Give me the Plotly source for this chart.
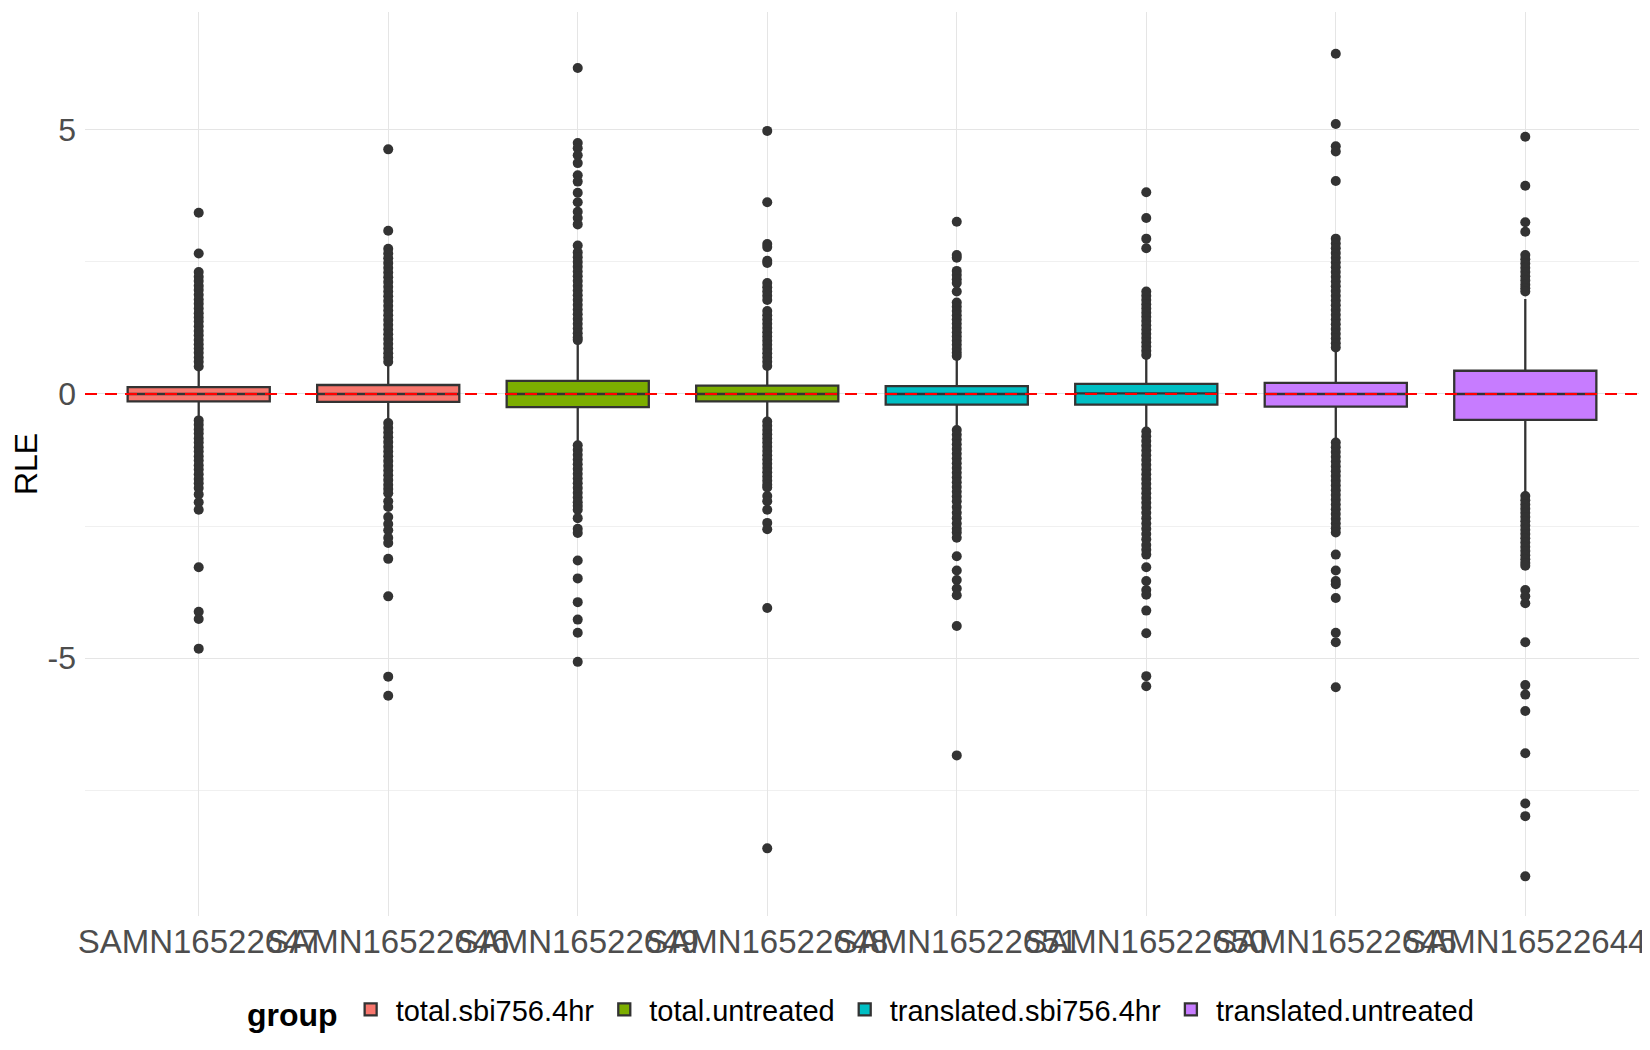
import plotly.graph_objects as go

# RLE boxplot per sample, coloured by group

samples = ["SAMN16522647", "SAMN16522646", "SAMN16522649", "SAMN16522648",
           "SAMN16522651", "SAMN16522650", "SAMN16522645", "SAMN16522644"]
sample_group = ["total.sbi756.4hr", "total.sbi756.4hr", "total.untreated", "total.untreated",
                "translated.sbi756.4hr", "translated.sbi756.4hr", "translated.untreated", "translated.untreated"]
group_names = ["total.sbi756.4hr", "total.untreated", "translated.sbi756.4hr", "translated.untreated"]
group_colors = ["#F8766D", "#7CAE00", "#00BFC4", "#C77CFF"]

y_ticks = [-5, 0, 5]
y_ticklabels = ["-5", "0", "5"]

q1 = [-0.14, -0.15, -0.25, -0.14, -0.20, -0.20, -0.24, -0.49]
median = [0.0, 0.0, 0.0, 0.0, 0.0, 0.01, 0.0, 0.0]
q3 = [0.13, 0.17, 0.25, 0.16, 0.15, 0.19, 0.21, 0.44]
lower_whisker = [-0.48, -0.53, -0.95, -0.50, -0.66, -0.70, -0.90, -1.86]
upper_whisker = [0.50, 0.59, 0.97, 0.51, 0.70, 0.72, 0.86, 1.80]

out_647 = [3.43, 2.66, 2.31, 2.22, 2.14, 2.05, 1.97, 1.88, 1.79, 1.71, 1.62, 1.53, 1.45, 1.37,
           1.28, 1.19, 1.11, 1.02, 0.94, 0.86, 0.78, 0.69, 0.61, 0.52,
           -0.50, -0.58, -0.67, -0.75, -0.84, -0.92, -1.01, -1.09, -1.18, -1.26, -1.35, -1.43,
           -1.52, -1.61, -1.69, -1.78, -1.90, -2.05, -2.19, -3.28, -4.12, -4.26, -4.82]
out_646 = [4.63, 3.09, 2.75, 2.66, 2.57, 2.48, 2.39, 2.30, 2.21, 2.12, 2.03, 1.94, 1.85, 1.76,
           1.67, 1.58, 1.49, 1.40, 1.31, 1.22, 1.13, 1.04, 0.95, 0.86, 0.77, 0.69, 0.61,
           -0.55, -0.64, -0.73, -0.82, -0.91, -1.00, -1.09, -1.18, -1.27, -1.36, -1.45, -1.54,
           -1.63, -1.72, -1.80, -1.88, -2.03, -2.14, -2.33, -2.46, -2.58, -2.72, -2.82, -3.12,
           -3.83, -5.35, -5.71]
out_649 = [6.17, 4.75, 4.65, 4.52, 4.37, 4.14, 4.02, 3.81, 3.63, 3.45, 3.33, 3.21, 2.81,
           2.68, 2.59, 2.50, 2.41, 2.32, 2.23, 2.14, 2.05, 1.96, 1.87, 1.78, 1.69, 1.60,
           1.51, 1.42, 1.33, 1.24, 1.15, 1.07, 1.02,
           -0.97, -1.06, -1.15, -1.24, -1.33, -1.42, -1.51, -1.60, -1.69, -1.78, -1.87,
           -1.96, -2.05, -2.12, -2.19, -2.35, -2.55, -2.63, -3.15, -3.49, -3.94, -4.27,
           -4.52, -5.07]
out_648 = [4.98, 3.63, 2.84, 2.78, 2.52, 2.48, 2.10, 2.02, 1.94, 1.86, 1.78, 1.57, 1.49,
           1.41, 1.33, 1.25, 1.17, 1.09, 1.01, 0.93, 0.85, 0.77, 0.69, 0.61, 0.53,
           -0.52, -0.60, -0.68, -0.76, -0.84, -0.92, -1.00, -1.08, -1.16, -1.24, -1.32,
           -1.40, -1.48, -1.56, -1.64, -1.72, -1.77, -1.93, -2.03, -2.19, -2.44, -2.56,
           -4.05, -8.60]
out_651 = [3.26, 2.63, 2.58, 2.33, 2.25, 2.17, 2.10, 1.94, 1.73, 1.65, 1.57, 1.49, 1.41,
           1.33, 1.25, 1.17, 1.09, 1.01, 0.93, 0.85, 0.78, 0.72,
           -0.68, -0.77, -0.86, -0.95, -1.04, -1.13, -1.22, -1.31, -1.40, -1.49, -1.58,
           -1.67, -1.76, -1.85, -1.94, -2.03, -2.14, -2.25, -2.35, -2.45, -2.55, -2.62,
           -2.72, -3.07, -3.34, -3.52, -3.68, -3.81, -4.39, -6.84]
out_650 = [3.82, 3.33, 2.94, 2.76, 1.94, 1.86, 1.78, 1.70, 1.62, 1.54, 1.46, 1.38, 1.30,
           1.22, 1.14, 1.06, 0.98, 0.90, 0.82, 0.74,
           -0.71, -0.80, -0.89, -0.98, -1.07, -1.16, -1.25, -1.34, -1.43, -1.52, -1.61,
           -1.70, -1.79, -1.88, -1.97, -2.06, -2.15, -2.25, -2.35, -2.45, -2.55, -2.65,
           -2.75, -2.86, -2.95, -3.04, -3.28, -3.54, -3.71, -3.80, -4.10, -4.53, -5.34, -5.53]
out_645 = [6.44, 5.11, 4.69, 4.59, 4.03, 2.94, 2.85, 2.76, 2.67, 2.58, 2.49, 2.40, 2.31,
           2.22, 2.13, 2.04, 1.95, 1.86, 1.77, 1.68, 1.59, 1.50, 1.41, 1.32, 1.23, 1.14,
           1.05, 0.96, 0.88,
           -0.92, -1.01, -1.10, -1.19, -1.28, -1.37, -1.46, -1.55, -1.64, -1.73, -1.82,
           -1.91, -2.00, -2.09, -2.18, -2.27, -2.36, -2.45, -2.54, -2.62, -3.04, -3.34,
           -3.54, -3.60, -3.86, -4.52, -4.70, -5.55]
out_644 = [4.87, 3.94, 3.25, 3.07, 2.63, 2.55, 2.47, 2.39, 2.31, 2.23, 2.15, 2.07, 2.00, 1.94,
           -1.93, -2.01, -2.09, -2.17, -2.25, -2.33, -2.41, -2.49, -2.57, -2.65, -2.73,
           -2.81, -2.89, -2.97, -3.05, -3.13, -3.20, -3.25, -3.71, -3.83, -3.96, -4.70,
           -5.51, -5.69, -6.00, -6.80, -7.75, -7.99, -9.13]
outliers = [out_647, out_646, out_649, out_648, out_651, out_650, out_645, out_644]

fig = go.Figure()

for g, col in zip(group_names, group_colors):
    idx = [i for i, sg in enumerate(sample_group) if sg == g]
    fig.add_trace(go.Box(
        x=[samples[i] for i in idx],
        q1=[q1[i] for i in idx],
        median=[median[i] for i in idx],
        q3=[q3[i] for i in idx],
        lowerfence=[lower_whisker[i] for i in idx],
        upperfence=[upper_whisker[i] for i in idx],
        name=g,
        fillcolor=col,
        line=dict(color="#333333", width=2.3),
        whiskerwidth=0,
        width=0.75,
        boxpoints=False,
        hoverinfo="skip",
    ))

for s, pts in zip(samples, outliers):
    fig.add_trace(go.Scatter(
        x=[s] * len(pts), y=pts, mode="markers",
        marker=dict(color="#333333", size=10),
        showlegend=False, hoverinfo="skip",
    ))

fig.add_shape(type="line", xref="paper", x0=0, x1=1, yref="y", y0=0, y1=0,
              line=dict(color="red", width=2.2, dash="12px,8px"), layer="above")

fig.update_layout(
    width=1650, height=1050,
    margin=dict(l=77, r=19, t=4, b=142),
    paper_bgcolor="white", plot_bgcolor="white",
    font=dict(family="Liberation Sans, Arial, sans-serif", color="black"),
    boxmode="overlay",
    xaxis=dict(
        type="category", categoryorder="array", categoryarray=samples,
        range=[-0.6, 7.6], automargin=False, tickangle=0,
        showgrid=True, gridcolor="#E5E5E5", gridwidth=1.3,
        zeroline=False, showline=False, ticks="",
        tickfont=dict(size=33, color="#4D4D4D"),
        ticklabelstandoff=3,
    ),
    yaxis=dict(
        range=[-9.88, 7.23], automargin=False,
        tickvals=y_ticks, ticktext=y_ticklabels,
        showgrid=True, gridcolor="#E5E5E5", gridwidth=1.3,
        minor=dict(tickvals=[-7.5, -2.5, 2.5], showgrid=True, gridcolor="#F0F0F0", gridwidth=0.8),
        zeroline=False, showline=False, ticks="",
        tickfont=dict(size=32, color="#4D4D4D"),
        ticklabelstandoff=8,
        title=dict(text="RLE", font=dict(size=32, color="black"), standoff=8),
    ),
    legend=dict(
        orientation="h", x=0.5, xanchor="center", y=-0.104, yanchor="middle",
        title=dict(text="<b>group</b>", font=dict(size=32), side="left"),
        font=dict(size=29),
        itemwidth=40,
        bgcolor="rgba(0,0,0,0)",
    ),
)

fig.write_html("out.html")
